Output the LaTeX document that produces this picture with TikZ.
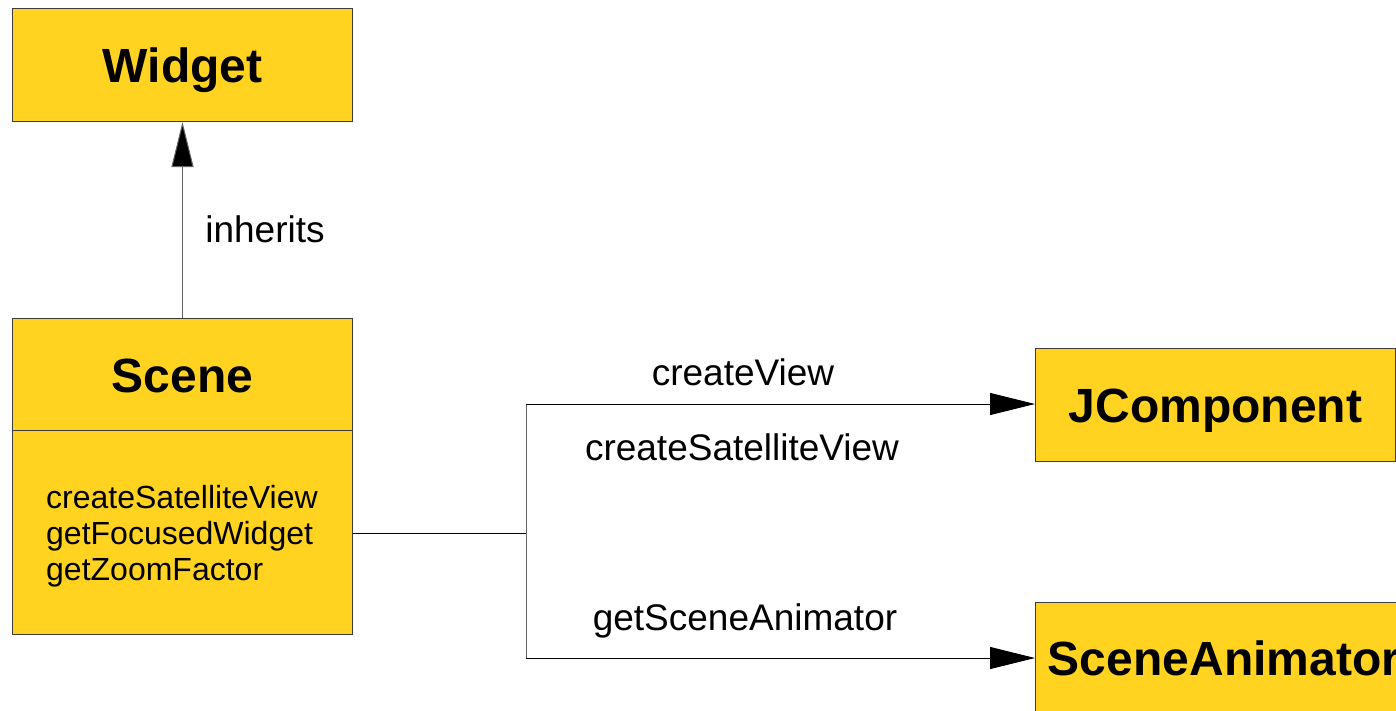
\documentclass[tikz,border=0pt]{standalone}
\usepackage{fontspec}
\setmainfont{Liberation Sans}
\usetikzlibrary{arrows.meta}
\definecolor{boxfill}{HTML}{FFD320}
\definecolor{boxline}{HTML}{3C3C3C}
\tikzset{
  classbox/.style={draw=boxline, line width=1pt, fill=boxfill, inner sep=0pt, anchor=north west},
  title/.style={font=\fontsize{48}{56}\selectfont\bfseries, inner sep=0pt, text height=35pt, text depth=0pt},
  lbl/.style={font=\fontsize{37}{44}\selectfont, inner sep=0pt},
  conn/.style={draw=black, line width=1pt},
  gconn/.style={draw=boxline!80, line width=1pt},
  tip/.style={-{Triangle[length=45pt,width=22pt]}}
}
\begin{document}
\begin{tikzpicture}[x=1pt,y=-1pt]
\useasboundingbox (0,0) rectangle (1396,710);
\clip (0,0) rectangle (1396,710);
\fill[white] (0,0) rectangle (1396,710);
% boxes
\node[classbox, minimum width=340pt, minimum height=113pt] (widget) at (12,8) {};
\node[title] at (widget.center) {Widget};
\node[classbox, minimum width=340pt, minimum height=112pt] (scenehead) at (12,318) {};
\node[title] at (scenehead.center) {Scene};
\node[classbox, minimum width=340pt, minimum height=204pt] (scenebody) at (12,430) {};
\node[font=\fontsize{32}{36}\selectfont, align=left, anchor=west, inner sep=0pt] (methods) at (46,536)
  {createSatelliteView\\getFocusedWidget\\getZoomFactor};
\node[classbox, minimum width=360pt, minimum height=113pt] (jcomp) at (1035,348) {};
\node[title] at (jcomp.center) {JComponent};
\node[classbox, minimum width=378pt, minimum height=114pt] (anim) at (1035,602) {};
\node[title] at (1224,658) {SceneAnimator};
% connectors
\draw[gconn, arrows={-{Triangle[length=45pt,width=22pt,fill=black]}}] (scenehead.north) -- (widget.south);
\coordinate (junc) at (526,533);
\coordinate (jtop) at (526,404);
\coordinate (jbot) at (526,658);
\draw[conn] (scenebody.east |- junc) -- (junc);
\draw[gconn] (jtop) -- (jbot);
\draw[conn, tip] (jtop) -- (jtop -| jcomp.west);
\draw[conn, tip] (jbot) -- (jbot -| anim.west);
% labels
\node[lbl] at (265,229) {inherits};
\node[lbl] at (743,372) {createView};
\node[lbl] at (742,447) {createSatelliteView};
\node[lbl] at (745,621) {getSceneAnimator};
\end{tikzpicture}
\end{document}
